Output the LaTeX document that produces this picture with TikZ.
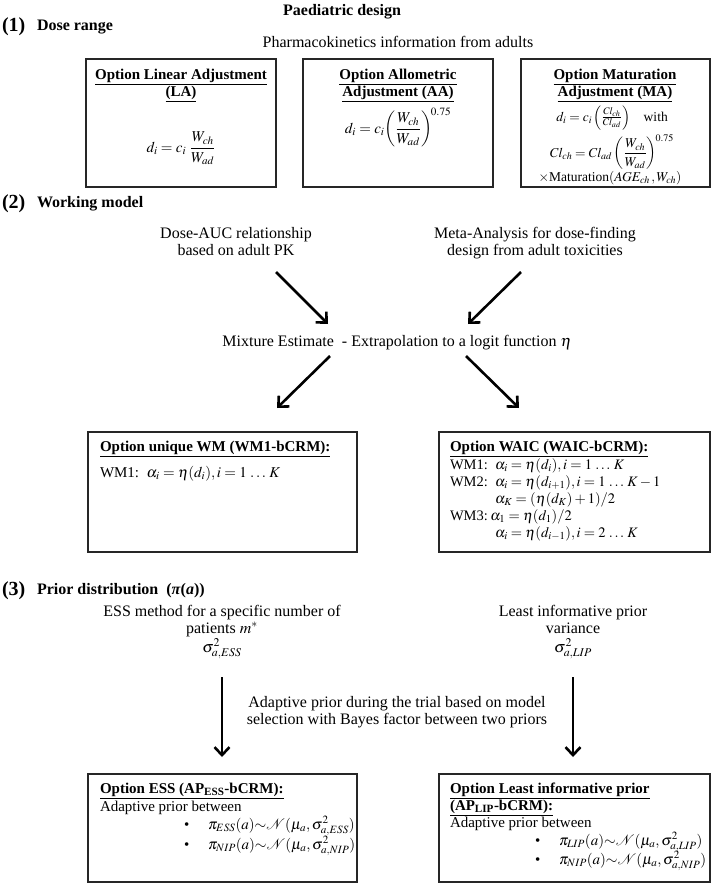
\documentclass[tikz,border=0pt]{standalone}
\usepackage{amsmath}
\usepackage{mathptmx}
\usepackage{fontspec}
\setmainfont{Liberation Serif}
\usetikzlibrary{arrows.meta}
\begin{document}
\begin{tikzpicture}[x=1pt,y=-1pt,
  every node/.style={inner sep=0pt, outer sep=0pt},
  t/.style={font=\fontsize{16}{18}\selectfont},
  bx/.style={font=\fontsize{15}{17}\selectfont},
  bxw/.style={font=\fontsize{14.5}{16}\selectfont},
  bxs/.style={font=\fontsize{13.5}{15}\selectfont},
  bxb/.style={font=\fontsize{15}{17}\selectfont\bfseries},
  num/.style={font=\fontsize{20}{22}\selectfont\bfseries},
  hd/.style={font=\fontsize{16}{18}\selectfont\bfseries},
  frame/.style={draw=black!85, line width=1.3pt, anchor=north west},
  arr/.style={line width=2.6pt, -{Straight Barb[length=8pt,width=15pt]}}
]
\fill[white] (0,0) rectangle (713,886);
\path[use as bounding box] (0,0) rectangle (713,886);

% ---------- header ----------
\node[hd, anchor=base] (title) at (342,15) {Paediatric design};
\node[num, anchor=base west] (n1) at (2,31) {(1)};
\node[hd, anchor=base west] (h1) at (37,30) {Dose range};
\node[t, anchor=base] (pk) at (398,47) {Pharmacokinetics information from adults};

% ---------- boxes (1) ----------
\node[frame, minimum width=190pt, minimum height=128pt] (la) at (86,59) {};
\node[frame, minimum width=190pt, minimum height=128pt] (aa) at (303,59) {};
\node[frame, minimum width=189pt, minimum height=128pt] (ma) at (521,59) {};

\node[bxb, anchor=base] (la1) at (181,79) {\underline{Option Linear Adjustment}};
\node[bxb, anchor=base] (la2) at (181,96) {\underline{(LA)}};
\node[bx, anchor=base] (laf) at (181,152) {$d_i = c_i\ \dfrac{W_{ch}}{W_{ad}}$};

\node[bxb, anchor=base] (aa1) at (398,79) {\underline{Option Allometric}};
\node[bxb, anchor=base] (aa2) at (398,96) {\underline{Adjustment (AA)}};
\node[bx, anchor=base] (aaf) at (398,133) {$d_i = c_i\!\left(\dfrac{W_{ch}}{W_{ad}}\right)^{\!0.75}$};

\node[bxb, anchor=base] (ma1) at (615,79) {\underline{Option Maturation}};
\node[bxb, anchor=base] (ma2) at (615,96) {\underline{Adjustment (MA)}};
\node[bxs, anchor=base] (maf1) at (612,121) {$d_i = c_i\left(\tfrac{Cl_{ch}}{Cl_{ad}}\right)$\quad with};
\node[bxs, anchor=base] (maf2) at (612,157) {$Cl_{ch} = Cl_{ad}\left(\dfrac{W_{ch}}{W_{ad}}\right)^{\!0.75}$};
\node[bxs, anchor=base] (maf3) at (610,181) {$\times$Maturation$(AGE_{ch}\,, W_{ch})$};

% ---------- (2) working model ----------
\node[num, anchor=base west] (n2) at (2,208) {(2)};
\node[hd, anchor=base west] (h2) at (37,207) {Working model};
\node[t, anchor=base] (dose1) at (236,238) {Dose-AUC relationship};
\node[t, anchor=base] (dose2) at (236,255) {based on adult PK};
\node[t, anchor=base] (meta1) at (535,238) {Meta-Analysis for dose-finding};
\node[t, anchor=base] (meta2) at (535,255) {design from adult toxicities};
\node[t, anchor=base] (mix) at (397,346) {Mixture Estimate \ - Extrapolation to a logit function $\eta$};

\coordinate (a1s) at (276,272); \coordinate (a1e) at (328,324);
\coordinate (a2s) at (521,272); \coordinate (a2e) at (468,324);
\coordinate (a3s) at (330,356); \coordinate (a3e) at (277,408);
\coordinate (a4s) at (466,356); \coordinate (a4e) at (519,408);
\draw[arr] (a1s) -- (a1e);
\draw[arr] (a2s) -- (a2e);
\draw[arr] (a3s) -- (a3e);
\draw[arr] (a4s) -- (a4e);

\node[frame, minimum width=269pt, minimum height=120pt] (wm) at (88,432) {};
\node[frame, minimum width=271pt, minimum height=120pt] (waic) at (439,432) {};

\node[bxb, anchor=base west] (wmt) at (100,451) {\underline{Option unique WM (WM1-bCRM):}};
\node[bx, anchor=base west] (wml) at (100,477) {WM1:\ \ $\alpha_i = \eta(d_i), i = 1\,\ldots\,K$};

\node[bxb, anchor=base west] (wat) at (450,451) {\underline{Option WAIC (WAIC-bCRM):}};
\node[bxw, anchor=base west] (wa1) at (450,469) {WM1:\ \ $\alpha_i = \eta(d_i), i = 1\,\ldots\,K$};
\node[bxw, anchor=base west] (wa2) at (450,486) {WM2:\ \ $\alpha_i = \eta(d_{i+1}), i = 1\,\ldots\,K-1$};
\node[bxw, anchor=base west] (wa3) at (450,503) {\phantom{WM2:\ \ }$\alpha_K = (\eta(d_K)+1)/2$};
\node[bxw, anchor=base west] (wa4) at (450,520) {WM3:\,$\alpha_1 = \eta(d_1)/2$};
\node[bxw, anchor=base west] (wa5) at (450,537) {\phantom{WM2:\ \ }$\alpha_i = \eta(d_{i-1}), i = 2\,\ldots\,K$};

% ---------- (3) prior ----------
\node[num, anchor=base west] (n3) at (2,595) {(3)};
\node[hd, anchor=base west] (h3) at (37,594) {Prior distribution \ (\textit{π}(\textit{a}))};

\node[t, anchor=base] (ess1) at (222,616) {ESS method for a specific number of};
\node[t, anchor=base] (ess2) at (222,633) {patients $m^{*}$};
\node[t, anchor=base] (ess3) at (222,652) {$\sigma^2_{a,ESS}$};
\node[t, anchor=base] (lip1) at (573,616) {Least informative prior};
\node[t, anchor=base] (lip2) at (573,633) {variance};
\node[t, anchor=base] (lip3) at (573,652) {$\sigma^2_{a,LIP}$};

\node[t, anchor=base] (ad1) at (397,707) {Adaptive prior during the trial based on model};
\node[t, anchor=base] (ad2) at (397,724) {selection with Bayes factor between two priors};

\coordinate (a5s) at (222,677); \coordinate (a5e) at (222,757);
\coordinate (a6s) at (573,677); \coordinate (a6e) at (573,757);
\draw[arr] (a5s) -- (a5e);
\draw[arr] (a6s) -- (a6e);

\node[frame, minimum width=269pt, minimum height=108pt] (essb) at (88,774) {};
\node[frame, minimum width=271pt, minimum height=108pt] (lipb) at (439,774) {};

\node[bxb, anchor=base west] (eb1) at (100,793) {\underline{Option ESS (AP\textsubscript{ESS}-bCRM):}};
\node[bx, anchor=base west] (eb2) at (100,811) {Adaptive prior between};
\node[bx, anchor=base west] (eb3) at (184,829) {\textbullet};
\node[bx, anchor=base west] (eb4) at (208,829) {$\pi_{ESS}(a){\sim}\mathcal{N}(\mu_a, \sigma^2_{a,ESS})$};
\node[bx, anchor=base west] (eb5) at (184,849) {\textbullet};
\node[bx, anchor=base west] (eb6) at (208,849) {$\pi_{NIP}(a){\sim}\mathcal{N}(\mu_a, \sigma^2_{a,NIP})$};

\node[bxb, anchor=base west] (lb1) at (450,793) {\underline{Option Least informative prior}};
\node[bxb, anchor=base west] (lb2) at (450,810) {\underline{(AP\textsubscript{LIP}-bCRM):}};
\node[bx, anchor=base west] (lb3) at (450,827) {Adaptive prior between};
\node[bx, anchor=base west] (lb4) at (535,845) {\textbullet};
\node[bx, anchor=base west] (lb5) at (559,845) {$\pi_{LIP}(a){\sim}\mathcal{N}(\mu_a, \sigma^2_{a,LIP})$};
\node[bx, anchor=base west] (lb6) at (535,864) {\textbullet};
\node[bx, anchor=base west] (lb7) at (559,864) {$\pi_{NIP}(a){\sim}\mathcal{N}(\mu_a, \sigma^2_{a,NIP})$};
\end{tikzpicture}
\end{document}
